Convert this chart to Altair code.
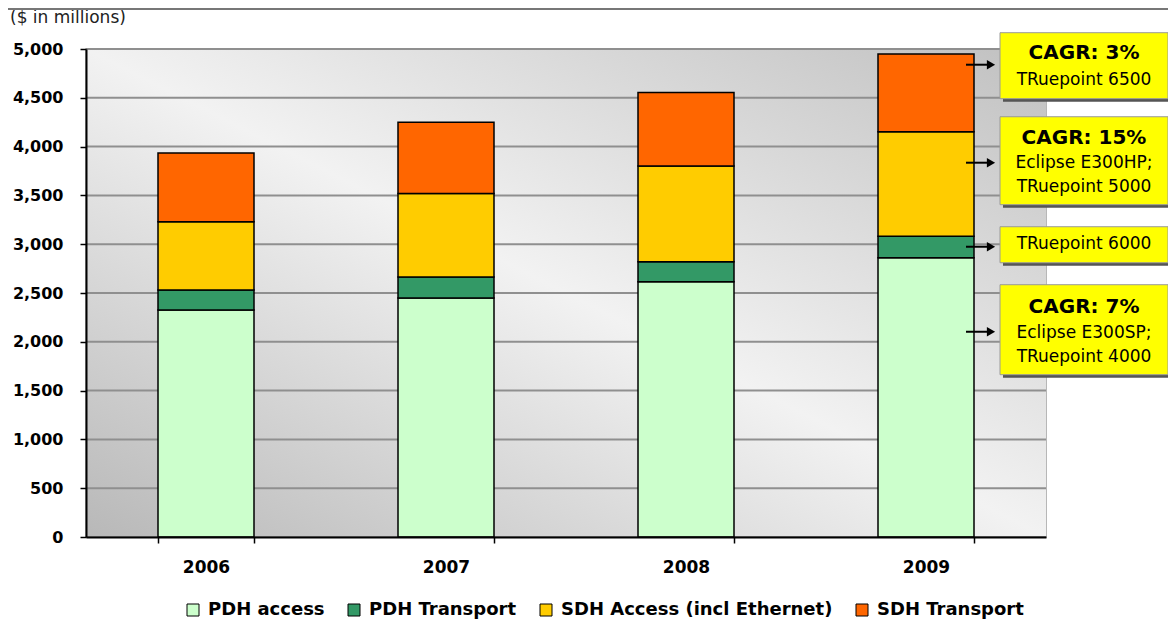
import altair as alt
import pandas as pd

# ---------------- data ----------------
years = ["2006", "2007", "2008", "2009"]
series = ["PDH access", "PDH Transport", "SDH Access (incl Ethernet)", "SDH Transport"]
colors = ["#CCFFCC", "#339966", "#FFCC00", "#FF6600"]
pdh_access = [2325, 2450, 2615, 2860]
pdh_transport = [205, 215, 205, 222]
sdh_access = [700, 855, 980, 1070]
sdh_transport = [705, 730, 755, 797]
y_ticks = [0, 500, 1000, 1500, 2000, 2500, 3000, 3500, 4000, 4500, 5000]
unit_label = ["($ in millions)"]

# annotation call-outs (y in $ millions)
box_top = [5167, 4306, 3179, 2585]
box_bottom = [4491, 3405, 2810, 1663]
arrow_y = [4839, 3835, 2974, 2103]
ann_text = ["CAGR: 3%", "TRuepoint 6500",
            "CAGR: 15%", "Eclipse E300HP;", "TRuepoint 5000",
            "TRuepoint 6000",
            "CAGR: 7%", "Eclipse E300SP;", "TRuepoint 4000"]
ann_bold = [True, False, True, False, False, False, True, False, False]
ann_y = [4962, 4685, 4091, 3835, 3589, 3005, 2360, 2093, 1847]

# ---------------- tables ----------------
rows = []
for i, s in enumerate(series):
    vals = [pdh_access, pdh_transport, sdh_access, sdh_transport][i]
    for y, v in zip(years, vals):
        rows.append({"year": y, "series": s, "value": v, "idx": i})
bars_df = pd.DataFrame(rows)
grid_df = pd.DataFrame({"v": y_ticks})
box_df = pd.DataFrame({"top": box_top, "bottom": box_bottom})
arrow_df = pd.DataFrame({"ay": arrow_y})
ann_df = pd.DataFrame({"t": ann_text, "bold": ann_bold, "ty": ann_y})
unit_df = pd.DataFrame({"t": unit_label})
one_df = pd.DataFrame({"a": [0]})

W, H = 960, 488
FONT = "DejaVu Sans"

yscale = alt.Scale(domain=[0, 5000], nice=False, zero=True)
yax = alt.Axis(values=y_ticks, labelExpr="format(datum.value, ',')", title=None,
               grid=False, zindex=1,
               labelFont=FONT, labelFontWeight="bold", labelFontSize=16,
               labelColor="black", labelPadding=17, tickSize=6, tickColor="black",
               tickWidth=1.5, domainColor="black", domainWidth=2)

gradient = alt.LinearGradient(
    gradient="linear",
    stops=[alt.GradientStop(color="#b8b8b8", offset=0),
           alt.GradientStop(color="#f2f2f2", offset=0.5),
           alt.GradientStop(color="#c0c0c0", offset=1)],
    x1=0, y1=1, x2=1, y2=0)

bg = alt.Chart(one_df).mark_rect(fill=gradient).encode(
    x=alt.value(0), x2=alt.value(W), y=alt.value(0), y2=alt.value(H))

grid = alt.Chart(grid_df).mark_rule(color="#8f8f8f", strokeWidth=2).encode(
    y=alt.Y("v:Q", scale=yscale, axis=yax))

bars = alt.Chart(bars_df).mark_bar(stroke="black", strokeWidth=1.5).encode(
    x=alt.X("year:N", sort=years,
            scale=alt.Scale(paddingInner=0.6, paddingOuter=0.3),
            axis=alt.Axis(title=None, labelAngle=0, tickBand="extent", zindex=1,
                          labelFont=FONT, labelFontWeight="bold", labelFontSize=17,
                          labelColor="black", labelPadding=16, tickSize=6,
                          tickColor="black", tickWidth=1.5, domainColor="black",
                          domainWidth=2)),
    y=alt.Y("value:Q", stack="zero", scale=yscale, axis=yax),
    color=alt.Color("series:N", sort=series,
                    scale=alt.Scale(domain=series, range=colors),
                    legend=alt.Legend(orient="none", legendX=98, legendY=552,
                                      direction="horizontal", title=None,
                                      symbolType="square", symbolSize=144,
                                      symbolStrokeColor="black", symbolStrokeWidth=1,
                                      symbolOpacity=1,
                                      labelFont=FONT, labelFontWeight="bold",
                                      labelFontSize=18, labelColor="black",
                                      labelOffset=6, columnPadding=20, padding=0,
                                      labelLimit=400)),
    order=alt.Order("idx:Q", sort="ascending"),
)

shadow = alt.Chart(box_df).mark_rect(fill="#555555", xOffset=3, x2Offset=3,
                                     yOffset=3, y2Offset=3).encode(
    x=alt.value(914), x2=alt.value(1082),
    y=alt.Y("top:Q", scale=yscale, axis=yax), y2="bottom:Q")

boxes = alt.Chart(box_df).mark_rect(fill="#FFFF00", stroke="#9a9a9a", strokeWidth=1).encode(
    x=alt.value(914), x2=alt.value(1082),
    y=alt.Y("top:Q", scale=yscale, axis=yax), y2="bottom:Q")

arrow_line = alt.Chart(arrow_df).mark_rule(color="black", strokeWidth=2).encode(
    x=alt.value(880), x2=alt.value(902),
    y=alt.Y("ay:Q", scale=yscale, axis=yax))

arrow_head = alt.Chart(arrow_df).mark_point(shape="triangle-right", filled=True,
                                            color="black", opacity=1, size=90).encode(
    x=alt.value(905), y=alt.Y("ay:Q", scale=yscale, axis=yax))

ann_b = alt.Chart(ann_df).transform_filter("datum.bold").mark_text(
    font=FONT, fontWeight="bold", fontSize=20, align="center", baseline="middle",
    color="black").encode(
    x=alt.value(998), y=alt.Y("ty:Q", scale=yscale, axis=yax), text="t:N")

ann_r = alt.Chart(ann_df).transform_filter("!datum.bold").mark_text(
    font=FONT, fontSize=17, align="center", baseline="middle",
    color="black").encode(
    x=alt.value(998), y=alt.Y("ty:Q", scale=yscale, axis=yax), text="t:N")

unit = alt.Chart(unit_df).mark_text(font=FONT, fontSize=17, align="left",
                                    baseline="middle", color="#222222").encode(
    x=alt.value(-76), y=alt.value(-31), text="t:N")

top_line = alt.Chart(one_df).mark_rule(color="#777777", strokeWidth=2).encode(
    x=alt.value(-78), x2=alt.value(1084), y=alt.value(-40))

chart = alt.layer(
    bg, grid, bars, shadow, boxes, arrow_line, arrow_head, ann_b, ann_r, unit, top_line
).properties(
    width=W, height=H,
    padding={"left": 78, "top": 41, "right": 122, "bottom": 83},
    autosize=alt.AutoSizeParams(type="none"),
).configure_view(stroke="#a0a0a0", strokeWidth=1.5)

chart.save("out.html", embed_options={"renderer": "svg", "actions": False})
